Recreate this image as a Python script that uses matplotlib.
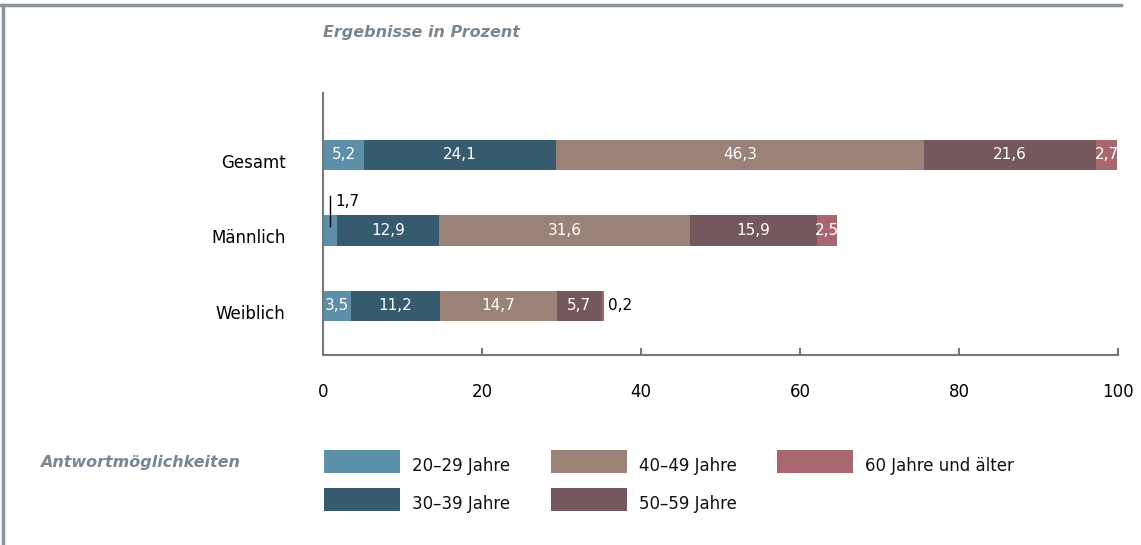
import matplotlib
matplotlib.use("Agg")
import matplotlib.pyplot as plt
from matplotlib.patches import Rectangle
from matplotlib.lines import Line2D
from matplotlib.transforms import ScaledTranslation
import numpy as np

plt.rcParams['font.family'] = ['Liberation Sans Narrow', 'DejaVu Sans']

categories = ["Gesamt", "Männlich", "Weiblich"]
series_names = ["20–29 Jahre", "30–39 Jahre", "40–49 Jahre", "50–59 Jahre", "60 Jahre und älter"]
values = {
    "20–29 Jahre": [5.2, 1.7, 3.5],
    "30–39 Jahre": [24.1, 12.9, 11.2],
    "40–49 Jahre": [46.3, 31.6, 14.7],
    "50–59 Jahre": [21.6, 15.9, 5.7],
    "60 Jahre und älter": [2.7, 2.5, 0.2],
}
colors = ["#5E8FA8", "#375B6E", "#9B8278", "#74585E", "#A8666E"]
xticks = [0, 20, 40, 60, 80, 100]

W, H = 1141, 545
fig = plt.figure(figsize=(W / 100, H / 100), dpi=100)
ax = fig.add_axes([323 / W, 1 - 355 / H, (1118 - 323) / W, (355 - 93) / H])

y = np.arange(len(categories))
left = np.zeros(len(categories))
for name, col in zip(series_names, colors):
    vals = np.array(values[name])
    ax.barh(y, vals, left=left, height=0.4, color=col, linewidth=0)
    for yi, (l, v) in enumerate(zip(left, vals)):
        txt = f"{v:.1f}".replace(".", ",")
        if v >= 2.0:
            ax.text(l + v / 2, yi, txt, ha="center", va="center", color="white", fontsize=11)
        elif yi == 1:
            xm = l + v / 2
            ax.plot([xm, xm], [yi - 0.06, yi - 0.45], color="black", lw=1)
            ax.text(xm + 0.7, yi - 0.38, txt, ha="left", va="center", color="black", fontsize=11)
        else:
            ax.text(l + v + 0.6, yi, txt, ha="left", va="center", color="black", fontsize=11)
    left = left + vals

ax.set_xlim(0, 100)
ax.set_ylim(2.65, -0.82)
ax.set_yticks(y)
ax.set_yticklabels(categories, fontsize=12)
ax.set_xticks(xticks)
ax.set_xticklabels([str(t) for t in xticks], fontsize=12)
ax.tick_params(axis="y", length=0, pad=27)
ax.tick_params(axis="x", direction="in", length=5, width=1.5, color="#777777", pad=20)
offset = ScaledTranslation(0, -6 / 100, fig.dpi_scale_trans)
for lab in ax.get_yticklabels():
    lab.set_transform(lab.get_transform() + offset)
for s in ["top", "right"]:
    ax.spines[s].set_visible(False)
for s in ["left", "bottom"]:
    ax.spines[s].set_color("#777777")
    ax.spines[s].set_linewidth(1.5)

# Frame lines
fig.add_artist(Line2D([0, 1121 / W], [1 - 5 / H, 1 - 5 / H], color="#8A949C", lw=2.5, transform=fig.transFigure))
fig.add_artist(Line2D([3 / W, 3 / W], [0, 1 - 5 / H], color="#8A949C", lw=2.5, transform=fig.transFigure))

# Titles
fig.text(323 / W, 1 - 32 / H, "Ergebnisse in Prozent", fontsize=11.5, style="italic", weight="bold",
         color="#7A8690", va="center", ha="left", family=["DejaVu Sans"])
fig.text(40 / W, 1 - 463 / H, "Antwortmöglichkeiten", fontsize=11.5, style="italic", weight="bold",
         color="#7A8690", va="center", ha="left", family=["DejaVu Sans"])

# Legend (manual)
col_x = [324, 551, 777]
row_y = [450, 488]
for i, (name, col) in enumerate(zip(series_names, colors)):
    c, r = i // 2, i % 2
    x0, y0 = col_x[c], row_y[r]
    fig.add_artist(Rectangle((x0 / W, 1 - (y0 + 23) / H), 76 / W, 23 / H, color=col,
                             transform=fig.transFigure, linewidth=0))
    fig.text((x0 + 88) / W, 1 - (y0 + 16) / H, name, fontsize=12, va="center", ha="left", color="#111111")

fig.savefig("out.png", dpi=100)
